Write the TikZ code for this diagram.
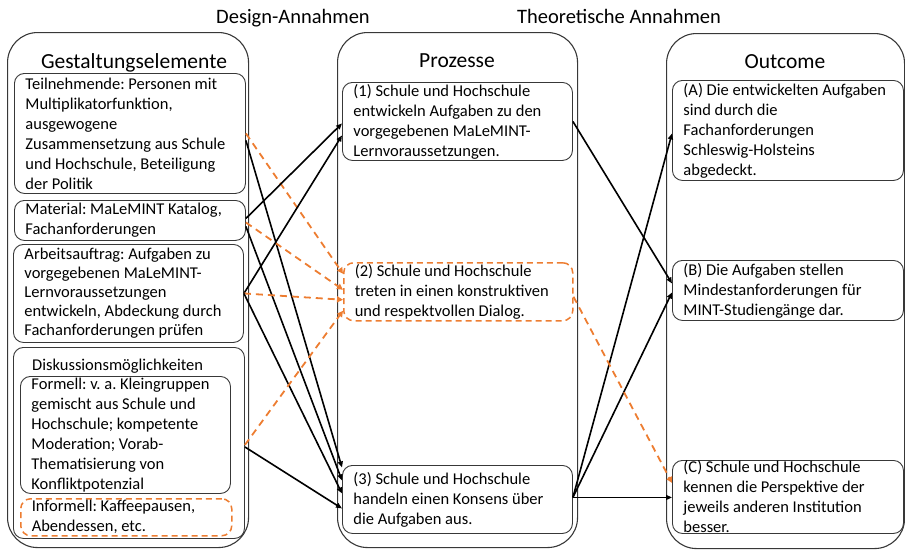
\documentclass[tikz,border=0pt]{standalone}
\usepackage{fontspec}
\setmainfont{Carlito}
\usetikzlibrary{arrows.meta,calc}
\definecolor{myorange}{HTML}{ED7D31}
\definecolor{bord}{HTML}{383838}
\newcommand{\bodyfont}{\fontsize{16.5}{20}\selectfont}
\frenchspacing
\begin{document}
\begin{tikzpicture}[x=1pt,y=-1pt,
  container/.style={draw=bord, line width=1.1pt, rounded corners=30pt, anchor=north west, inner sep=0pt},
  box/.style={draw=bord, line width=0.9pt, rounded corners=10pt, anchor=north west, align=flush left,
    inner xsep=11pt, inner ysep=0pt, font=\bodyfont, text width=209pt, minimum width=231pt},
  dbox/.style={box, draw=myorange, line width=1.5pt, dash pattern=on 6pt off 4pt},
  head/.style={font=\fontsize{21.5}{24}\selectfont, inner sep=0pt, anchor=base},
  conn/.style={draw=black, line width=1.6pt, -{Triangle[length=6pt,width=5pt]}},
  dconn/.style={draw=myorange, line width=1.8pt, dash pattern=on 7pt off 5pt, -{Triangle[length=6pt,width=6pt]}}
]
\useasboundingbox (0,0) rectangle (905,549);

% top labels
\node[head, font=\fontsize{20.5}{24}\selectfont] (t1) at (293,23) {Design-Annahmen};
\node[head, font=\fontsize{20.5}{24}\selectfont] (t2) at (619,23) {Theoretische Annahmen};

% containers
\node[container, minimum width=241pt, minimum height=515pt] (L) at (7,32) {};
\node[container, minimum width=240pt, minimum height=515pt] (M) at (337,32) {};
\node[container, minimum width=238pt, minimum height=515pt] (R) at (666,33) {};

\node[head] (hL) at (134,68) {Gestaltungselemente};
\node[head] (hM) at (457,67) {Prozesse};
\node[head] (hR) at (785,68) {Outcome};

% left boxes
\node[box, minimum height=120pt] (teil) at (14,73) {Teilnehmende: Personen mit\\Multiplikatorfunktion,\\ausgewogene\\Zusammensetzung aus Schule\\und Hochschule, Beteiligung\\der Politik};
\node[box, minimum height=40pt] (mat) at (14,200) {Material: MaLeMINT Katalog,\\Fachanforderungen};
\node[box, minimum height=98pt, text width=208pt, minimum width=230pt, font=\fontsize{16.5}{19}\selectfont] (arb) at (13,244) {Arbeitsauftrag: Aufgaben zu\\vorgegebenen MaLeMINT-\\Lernvoraussetzungen\\entwickeln, Abdeckung durch\\Fachanforderungen prüfen};
\node[box, minimum height=191pt] (disk) at (13,347) {};
\node[font=\bodyfont, anchor=base west, inner sep=0pt] (disktitle) at (32,370) {Diskussionsmöglichkeiten};
\node[box, minimum height=117pt, text width=188pt, minimum width=210pt] (form) at (20,376) {Formell: v. a. Kleingruppen\\gemischt aus Schule und\\Hochschule; kompetente\\Moderation; Vorab-\\Thematisierung von\\Konfliktpotenzial};
\node[dbox, minimum height=37pt, text width=189pt, minimum width=211pt] (inf) at (20,498) {Informell: Kaffeepausen,\\Abendessen, etc.};

% middle boxes
\node[box, minimum height=78pt, text width=208pt, minimum width=230pt] (p1) at (342,82) {(1) Schule und Hochschule\\entwickeln Aufgaben zu den\\vorgegebenen MaLeMINT-\\Lernvoraussetzungen.};
\node[dbox, minimum height=58pt, text width=207pt, minimum width=229pt] (p2) at (343,262) {(2) Schule und Hochschule\\treten in einen konstruktiven\\und respektvollen Dialog.};
\node[box, minimum height=68pt, text width=208pt, minimum width=230pt] (p3) at (342,465) {(3) Schule und Hochschule\\handeln einen Konsens über\\die Aufgaben aus.};

% right boxes
\node[box, minimum height=100pt] (oA) at (672,80) {(A) Die entwickelten Aufgaben\\sind durch die\\Fachanforderungen\\Schleswig-Holsteins\\abgedeckt.};
\node[box, minimum height=60pt] (oB) at (672,260) {(B) Die Aufgaben stellen\\Mindestanforderungen für\\MINT-Studiengänge dar.};
\node[box, minimum height=73pt] (oC) at (672,460) {(C) Schule und Hochschule\\kennen die Perspektive der\\jeweils anderen Institution\\besser.};

% connectors left -> middle
\draw[conn] ($(teil.east)+(0,7)$) -- ($(p3.west)+(0,-32)$);
\draw[dconn] (teil.east) -- ($(p2.west)+(0,-18)$);
\draw[conn] ($(mat.east)+(0,-2)$) -- ($(p1.west)+(0,2)$);
\draw[dconn] ($(mat.east)+(0,2)$) -- ($(p2.west)+(0,-2)$);
\draw[conn] ($(mat.east)+(0,6)$) -- ($(p3.west)+(0,-19)$);
\draw[conn] (arb.east) -- ($(p1.west)+(0,14)$);
\draw[dconn] (arb.east) -- ($(p2.west)+(0,8)$);
\draw[conn] (arb.east) -- ($(p3.west)+(0,-6)$);
\draw[dconn] ($(disk.east)+(0,2)$) -- ($(p2.west)+(0,19)$);
\draw[conn] ($(disk.east)+(0,4)$) -- ($(p3.west)+(0,9)$);

% connectors middle -> right
\draw[conn] (p1.east) -- ($(oB.west)+(0,-7)$);
\draw[conn] ($(p3.east)+(0,-2)$) -- ($(oA.west)+(0,3)$);
\draw[conn] ($(p3.east)+(0,-2)$) -- ($(oB.west)+(0,2)$);
\draw[conn] ($(p3.east)+(0,-2)$) -- ($(oC.west)+(0,0.5)$);
\draw[dconn] ($(p2.east)+(0,5)$) -- ($(oC.west)+(0,-14)$);
\end{tikzpicture}
\end{document}
